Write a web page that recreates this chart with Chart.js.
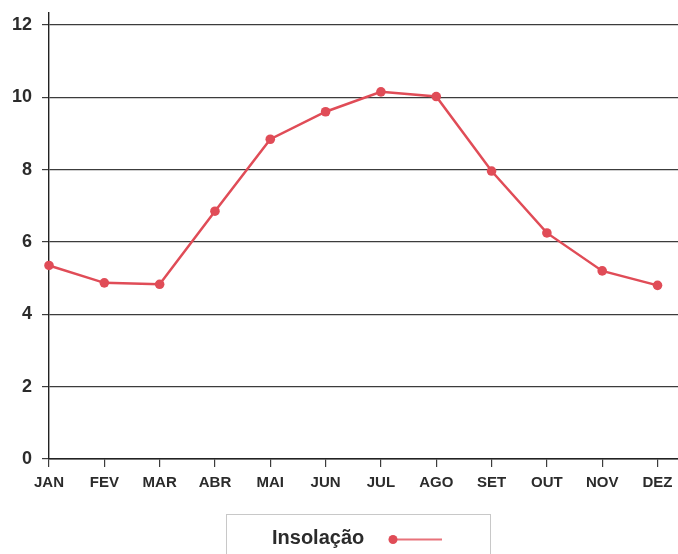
<!DOCTYPE html>
<html>
<head>
<meta charset="utf-8">
<script src="https://cdn.jsdelivr.net/npm/chart.js@4/dist/chart.umd.min.js"></script>
<style>
  html, body { margin: 0; padding: 0; background: #fff; }
  #wrap { width: 678px; height: 554px; overflow: hidden; }
</style>
</head>
<body>
<div id="wrap"><canvas id="c" width="678" height="554"></canvas></div>
<script>
// Monthly insolation (hours per day)
const months = ['JAN', 'FEV', 'MAR', 'ABR', 'MAI', 'JUN', 'JUL', 'AGO', 'SET', 'OUT', 'NOV', 'DEZ'];
const insolacao = [5.35, 4.87, 4.83, 6.85, 8.84, 9.6, 10.15, 10.02, 7.96, 6.25, 5.2, 4.8];
const yTicks = [0, 2, 4, 6, 8, 10, 12];
const seriesLabel = 'Insolação';

const lineColor = '#e04c57';
const textColor = '#2b2b2b';
const gridColor = '#3c3c3c';
const fontFamily = '"Liberation Sans", Arial, sans-serif';

// Legend in a framed box below the axis: label text first, then a line sample with a dot
const boxLegend = {
  id: 'boxLegend',
  afterDraw(chart) {
    const ctx = chart.ctx;
    const ds = chart.data.datasets[0];
    ctx.save();
    ctx.strokeStyle = '#c8c8c8';
    ctx.lineWidth = 1;
    ctx.strokeRect(226.5, 514.5, 264, 60);
    ctx.fillStyle = textColor;
    ctx.font = 'bold 20px ' + fontFamily;
    ctx.textBaseline = 'middle';
    ctx.textAlign = 'left';
    ctx.fillText(ds.label, 272, 538);
    ctx.strokeStyle = '#e8727b';
    ctx.lineWidth = 2;
    ctx.beginPath();
    ctx.moveTo(393, 539.5);
    ctx.lineTo(442, 539.5);
    ctx.stroke();
    ctx.fillStyle = ds.borderColor;
    ctx.beginPath();
    ctx.arc(393, 539.5, 4.5, 0, Math.PI * 2);
    ctx.fill();
    ctx.restore();
  }
};

new Chart(document.getElementById('c'), {
  type: 'line',
  data: {
    datasets: [{
      label: seriesLabel,
      data: insolacao.map((v, i) => ({ x: i, y: v })),
      borderColor: lineColor,
      backgroundColor: lineColor,
      borderWidth: 2.5,
      pointRadius: 4.8,
      pointBorderWidth: 0,
      tension: 0,
      clip: false
    }]
  },
  options: {
    responsive: false,
    animation: false,
    layout: { autoPadding: false, padding: { top: 13, right: 0, left: 0, bottom: 0 } },
    plugins: { legend: { display: false }, tooltip: { enabled: false } },
    scales: {
      x: {
        type: 'linear',
        min: 0,
        max: 11.37,
        afterFit(scale) {
          scale.height = 95;
          scale.paddingLeft = 0;
          scale.paddingRight = 0;
        },
        afterBuildTicks(scale) {
          scale.ticks = months.map((m, i) => ({ value: i }));
        },
        ticks: {
          autoSkip: false,
          maxRotation: 0,
          includeBounds: false,
          padding: 7,
          color: textColor,
          font: { family: fontFamily, size: 15, weight: 'bold' },
          callback: (v) => months[v] ?? ''
        },
        grid: {
          drawOnChartArea: false,
          drawTicks: true,
          tickLength: 8,
          color: gridColor,
          lineWidth: 1.2
        },
        border: { display: true, color: '#222', width: 1.6 }
      },
      y: {
        min: 0,
        max: 12.33,
        afterFit(scale) {
          scale.width = 49;
          scale.paddingTop = 0;
          scale.paddingBottom = 0;
        },
        afterBuildTicks(scale) {
          scale.ticks = yTicks.map(v => ({ value: v }));
        },
        ticks: {
          includeBounds: false,
          padding: 10,
          color: textColor,
          font: { family: fontFamily, size: 18, weight: 'bold' }
        },
        grid: {
          color: gridColor,
          lineWidth: 1.2,
          tickLength: 7
        },
        border: { display: true, color: '#222', width: 1.4 }
      }
    }
  },
  plugins: [boxLegend]
});
</script>
</body>
</html>
